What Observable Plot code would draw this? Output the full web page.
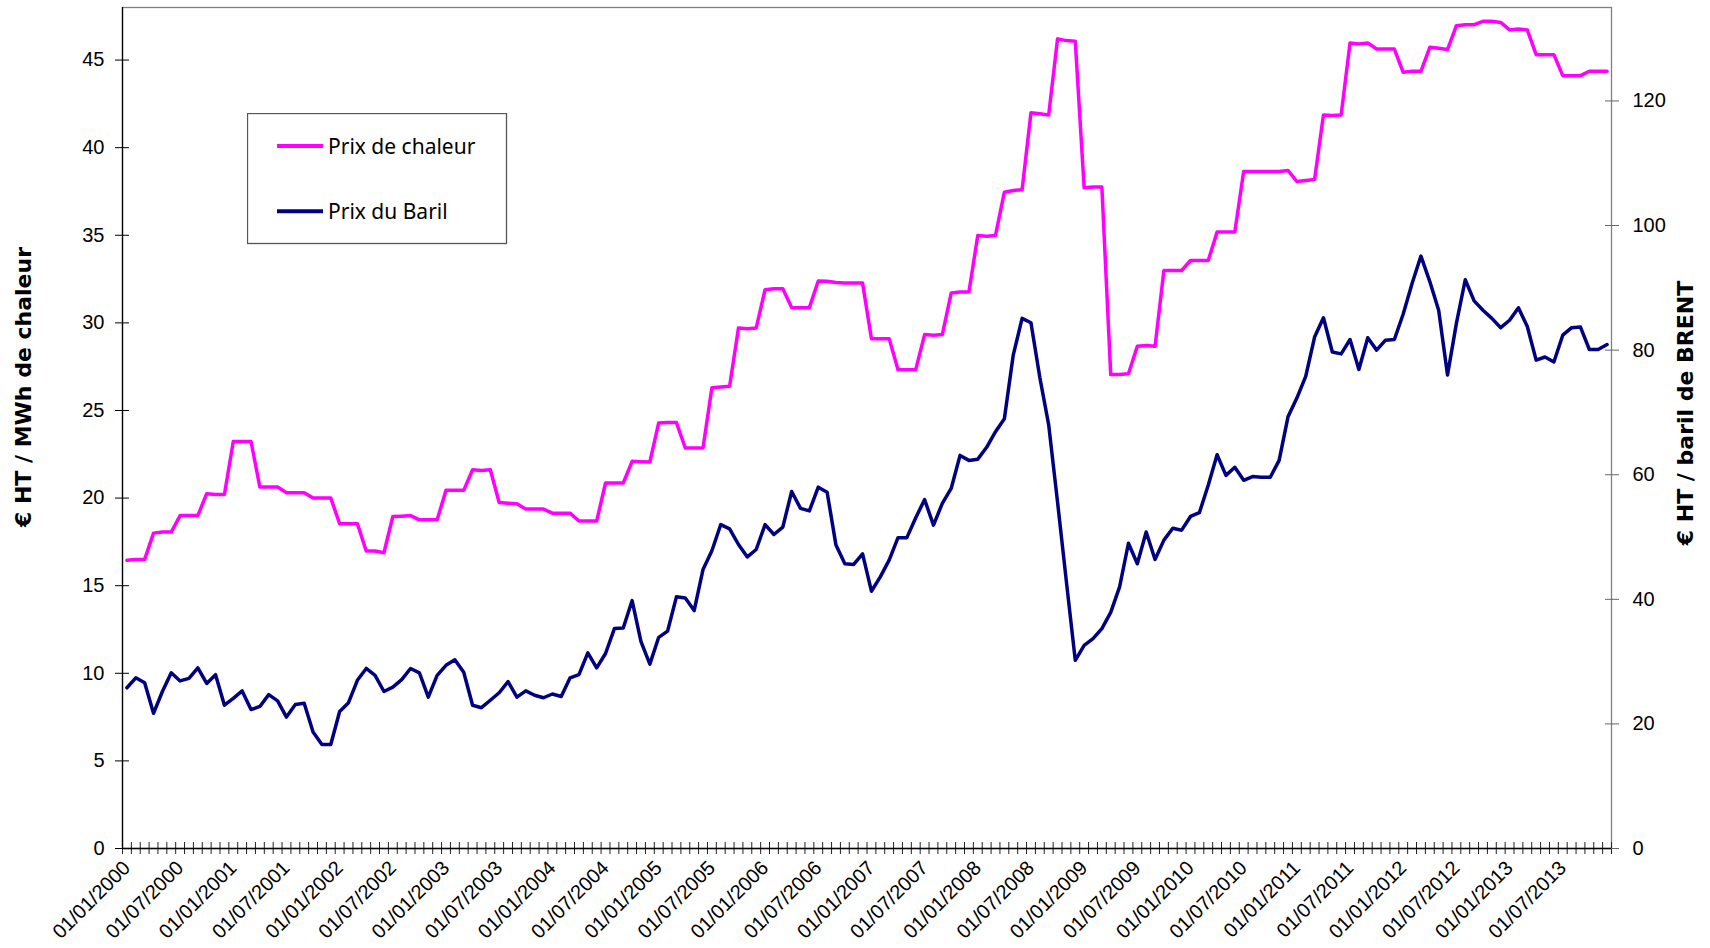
<!DOCTYPE html>
<html>
<head>
<meta charset="utf-8">
<script src="https://cdn.jsdelivr.net/npm/d3@7"></script>
<script src="https://cdn.jsdelivr.net/npm/@observablehq/plot@0.6"></script>
<style>
  html, body { margin: 0; padding: 0; background: #fff; }
  #wrap { position: relative; width: 1710px; height: 948px; overflow: hidden; }
  #legend { position: absolute; left: 247px; top: 113px; }
</style>
</head>
<body>
<div id="wrap"></div>
<script>
// ---- categories: monthly, 01/01/2000 .. 01/12/2013
const firstYear = 2000;
const nMonths = 168;
const months = d3.range(nMonths).map(i => {
  const y = firstYear + Math.floor(i / 12), m = (i % 12) + 1;
  return `01/${String(m).padStart(2, "0")}/${y}`;
});

// ---- series
// Prix de chaleur, € HT / MWh de chaleur (left axis)
const prixChaleur = [
  16.45, 16.5, 16.5, 18.0, 18.06, 18.06, 19.0, 19.0, 19.0, 20.25, 20.2, 20.2,
  23.23, 23.23, 23.23, 20.63, 20.63, 20.63, 20.3, 20.3, 20.3, 20.0, 20.0, 20.0,
  18.54, 18.54, 18.54, 16.98, 16.98, 16.88, 18.95, 18.97, 19.0, 18.76, 18.76, 18.76,
  20.44, 20.44, 20.44, 21.62, 21.58, 21.62, 19.75, 19.71, 19.68, 19.37, 19.37, 19.37,
  19.14, 19.14, 19.14, 18.69, 18.69, 18.69, 20.86, 20.86, 20.86, 22.1, 22.08, 22.06,
  24.29, 24.31, 24.31, 22.86, 22.86, 22.86, 26.3, 26.34, 26.38, 29.71, 29.67, 29.71,
  31.89, 31.95, 31.95, 30.87, 30.87, 30.87, 32.39, 32.37, 32.31, 32.27, 32.27, 32.27,
  29.1, 29.1, 29.1, 27.33, 27.33, 27.33, 29.33, 29.29, 29.33, 31.7, 31.76, 31.76,
  34.99, 34.95, 34.99, 37.46, 37.56, 37.6, 41.99, 41.93, 41.87, 46.21, 46.11, 46.08,
  37.71, 37.75, 37.75, 27.05, 27.05, 27.1, 28.66, 28.71, 28.66, 32.99, 32.99, 32.99,
  33.56, 33.56, 33.56, 35.18, 35.18, 35.18, 38.64, 38.64, 38.64, 38.64, 38.64, 38.7,
  38.07, 38.12, 38.18, 41.87, 41.83, 41.87, 45.98, 45.92, 45.98, 45.63, 45.63, 45.63,
  44.3, 44.36, 44.36, 45.73, 45.67, 45.6, 46.96, 47.02, 47.02, 47.21, 47.21, 47.15,
  46.72, 46.77, 46.72, 45.31, 45.31, 45.31, 44.11, 44.11, 44.11, 44.36, 44.36, 44.36
];
// Prix du Baril, € HT / baril de BRENT (right axis)
const prixBaril = [
  25.8, 27.4, 26.6, 21.7, 25.2, 28.2, 26.9, 27.3, 29.0, 26.5, 27.9, 23.0,
  24.1, 25.3, 22.3, 22.8, 24.7, 23.7, 21.1, 23.1, 23.3, 18.7, 16.7, 16.7,
  22.0, 23.4, 27.0, 28.9, 27.8, 25.2, 25.9, 27.1, 28.9, 28.2, 24.3, 27.8,
  29.4, 30.3, 28.3, 23.0, 22.6, 23.8, 25.0, 26.8, 24.3, 25.3, 24.6, 24.2,
  24.8, 24.4, 27.4, 27.9, 31.4, 29.0, 31.3, 35.3, 35.4, 39.8, 33.2, 29.6,
  33.9, 34.9, 40.4, 40.2, 38.2, 44.8, 47.8, 52.0, 51.3, 48.8, 46.8, 48.0,
  52.0, 50.4, 51.6, 57.3, 54.6, 54.2, 58.0, 57.2, 48.7, 45.7, 45.6, 47.3,
  41.3, 43.6, 46.3, 49.9, 49.9, 53.1, 56.0, 51.9, 55.4, 57.8, 63.1, 62.3,
  62.5, 64.4, 66.9, 69.0, 79.2, 85.1, 84.4, 75.6, 68.0, 55.6, 42.8, 30.2,
  32.6, 33.7, 35.3, 37.9, 42.0, 49.0, 45.7, 50.8, 46.4, 49.5, 51.4, 51.1,
  53.3, 53.9, 58.3, 63.2, 59.9, 61.2, 59.1, 59.7, 59.6, 59.6, 62.3, 69.3,
  72.3, 75.8, 82.1, 85.2, 79.7, 79.4, 81.7, 76.9, 82.0, 80.0, 81.6, 81.7,
  85.8, 90.7, 95.1, 91.0, 86.4, 76.0, 84.3, 91.3, 87.9, 86.4, 85.1, 83.6,
  84.8, 86.8, 83.8, 78.4, 78.9, 78.1, 82.4, 83.6, 83.7, 80.1, 80.1, 80.9
];

const seriesNames = ["Prix de chaleur", "Prix du Baril"];
const seriesColors = ["#FF00FF", "#000080"];

// ---- axes
const leftTicks = [0, 5, 10, 15, 20, 25, 30, 35, 40, 45];
const rightTicks = [0, 20, 40, 60, 80, 100, 120];
const leftMax = 48, rightMax = 135;
const labelEvery = 6;
const leftTitle = "€ HT / MWh de chaleur";
const rightTitle = "€ HT / baril de BRENT";

const toLeft = v => v * leftMax / rightMax;
const rows = months.map((m, i) => ({i, label: m, chaleur: prixChaleur[i], baril: prixBaril[i]}));

const tickFont = "Liberation Sans, Arial, sans-serif";
const titleFont = "DejaVu Sans, Verdana, sans-serif";

const chart = Plot.plot({
  width: 1710,
  height: 948,
  marginLeft: 122,
  marginRight: 99,
  marginTop: 7,
  marginBottom: 100,
  style: {background: "#fff", color: "#000", fontFamily: tickFont, fontSize: "20px", overflow: "visible"},
  x: {type: "linear", domain: [0, nMonths]},
  y: {domain: [0, leftMax]},
  marks: [
    // plot area border
    Plot.frame({stroke: "#808080", strokeWidth: 1.3}),
    // x axis: month boundary ticks crossing the axis
    Plot.axisX(d3.range(0, nMonths + 1), {anchor: "bottom", tickSize: 12, dy: -6, tickFormat: () => "", label: null, stroke: "#222"}),
    // x axis: date labels every 6 months
    Plot.axisX(d3.range(0, nMonths, labelEvery).map(i => i + 0.5), {
      anchor: "bottom", tickSize: 0, tickPadding: 16, tickRotate: -45,
      tickFormat: d => months[Math.floor(d)], label: null, fontSize: 20, fill: "#000"
    }),
    // left axis
    Plot.axisY(leftTicks, {anchor: "left", tickSize: 14, dx: 7, tickFormat: () => "", label: null, stroke: "#000"}),
    Plot.axisY(leftTicks, {anchor: "left", tickSize: 0, tickPadding: 18, label: null, fontSize: 20, fill: "#000"}),
    // right axis (baril scale mapped onto the chart scale)
    Plot.axisY(rightTicks.map(toLeft), {anchor: "right", tickSize: 14, dx: -7, tickFormat: () => "", label: null, stroke: "#666"}),
    Plot.axisY(rightTicks.map(toLeft), {anchor: "right", tickSize: 0, tickPadding: 21, label: null, fontSize: 20, fill: "#000",
      tickFormat: d => String(Math.round(d * rightMax / leftMax))}),
    // axis lines
    Plot.ruleX([0], {stroke: "#000", strokeWidth: 1.3}),
    Plot.ruleY([0], {stroke: "#000", strokeWidth: 1.3}),
    // series
    Plot.line(rows, {x: d => d.i + 0.5, y: "chaleur", stroke: seriesColors[0], strokeWidth: 3.5, strokeLinejoin: "round"}),
    Plot.line(rows, {x: d => d.i + 0.5, y: d => toLeft(d.baril), stroke: seriesColors[1], strokeWidth: 3.5, strokeLinejoin: "round"}),
    // axis titles
    Plot.text([leftTitle], {frameAnchor: "left", textAnchor: "middle", lineAnchor: "middle", dx: -99, dy: -41, rotate: -90,
      fontFamily: titleFont, fontWeight: "bold", fontSize: 22, fill: "#000"}),
    Plot.text([rightTitle], {frameAnchor: "right", textAnchor: "middle", lineAnchor: "middle", dx: 74, dy: -15, rotate: -90,
      fontFamily: titleFont, fontWeight: "bold", fontSize: 22, fill: "#000"})
  ]
});

const wrap = document.getElementById("wrap");
wrap.appendChild(chart);

// ---- legend inside the plot area (upper left)
const legend = d3.select(wrap).append("svg")
  .attr("id", "legend")
  .attr("width", 261).attr("height", 132);
legend.append("rect")
  .attr("x", 0.5).attr("y", 0.5).attr("width", 259).attr("height", 130)
  .attr("fill", "#fff").attr("stroke", "#555").attr("stroke-width", 1.3);
seriesNames.forEach((name, k) => {
  const cy = 33 + k * 65.3;
  legend.append("line")
    .attr("x1", 30).attr("x2", 76).attr("y1", cy).attr("y2", cy)
    .attr("stroke", seriesColors[k]).attr("stroke-width", 4);
  legend.append("text")
    .attr("x", 81).attr("y", cy + 8)
    .attr("font-family", "Noto Sans, Open Sans, sans-serif")
    .attr("font-size", 21)
    .attr("fill", "#000")
    .text(name);
});
</script>
</body>
</html>
